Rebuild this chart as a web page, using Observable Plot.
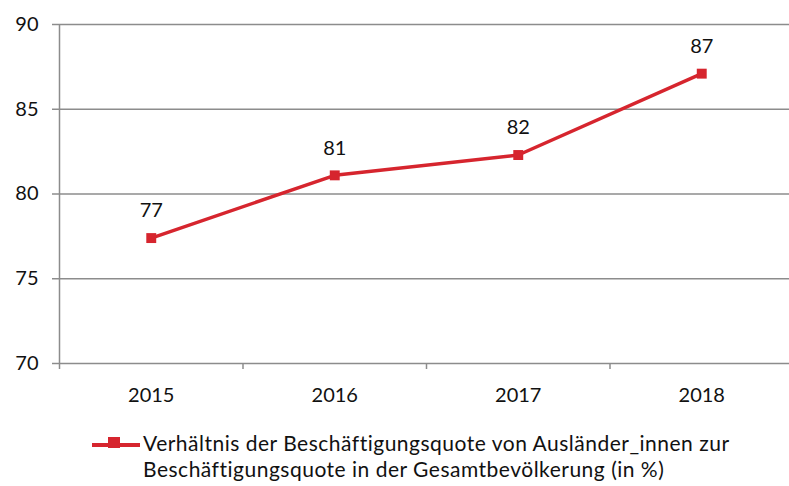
<!DOCTYPE html>
<html>
<head>
<meta charset="utf-8">
<script src="https://cdn.jsdelivr.net/npm/d3@7"></script>
<script src="https://cdn.jsdelivr.net/npm/@observablehq/plot@0.6"></script>
<style>
  body { margin: 0; background: #fff; font-family: Lato, "Open Sans", sans-serif; overflow: hidden; }
  #chart { width: 789px; overflow: hidden; }
  .legend { position: relative; height: 78px; }
  .legend svg { position: absolute; left: 90px; top: 29px; }
  .legend .txt { position: absolute; left: 143px; top: 22px; font-size: 21px; line-height: 26px; letter-spacing: 0.5px; color: #111; white-space: nowrap; }
</style>
</head>
<body>
<div id="chart"></div>
<script>
const years = [2015, 2016, 2017, 2018];
const ratio = [77.4, 81.1, 82.3, 87.1];
const yTicks = [70, 75, 80, 85, 90];
const legendLines = ["Verhältnis der Beschäftigungsquote von Ausländer_innen zur", "Beschäftigungsquote in der Gesamtbevölkerung (in %)"];
const lineColor = "#d6252e";
const gridColor = "#8c8c8c";

const data = years.map((year, i) => ({year, value: ratio[i]}));
// category boundaries, half a year either side of each point
const bandEdges = d3.range(years.length + 1).map(i => years[0] - 0.5 + i);

const plot = Plot.plot({
  width: 789,
  height: 408,
  marginLeft: 59,
  marginRight: -4,
  marginTop: 24,
  marginBottom: 45,
  style: {fontFamily: "Lato, 'Open Sans', sans-serif", fontSize: "20px", color: "#111", overflow: "hidden"},
  x: {type: "linear", domain: [bandEdges[0], bandEdges[bandEdges.length - 1]]},
  y: {domain: [70, 90]},
  marks: [
    Plot.ruleY(yTicks, {stroke: gridColor, strokeWidth: 1.5}),
    Plot.ruleX([bandEdges[0]], {stroke: gridColor, strokeWidth: 1.5}),
    Plot.axisY({ticks: yTicks, tickSize: 7, tickPadding: 14, stroke: gridColor, strokeWidth: 1.5, label: null, fill: "#111"}),
    Plot.axisX({ticks: bandEdges, tickSize: 6, tickFormat: () => "", stroke: gridColor, strokeWidth: 1.5, label: null}),
    Plot.axisX({ticks: years, tickSize: 0, tickPadding: 24, tickFormat: d => String(d), label: null, fill: "#111"}),
    Plot.line(data, {x: "year", y: "value", stroke: lineColor, strokeWidth: 3.5}),
    Plot.dot(data, {x: "year", y: "value", symbol: "square", r: 5.6, fill: lineColor, stroke: null}),
    Plot.text(data, {x: "year", y: "value", text: d => d3.format(".0f")(d.value), dy: -27, fill: "#111"})
  ]
});

const chart = document.getElementById("chart");
chart.appendChild(plot);

const legend = document.createElement("div");
legend.className = "legend";
legend.innerHTML = `<svg width="54" height="16">
  <line x1="2" x2="50" y1="8" y2="8" stroke="${lineColor}" stroke-width="4"/>
  <rect x="18" y="0" width="12" height="11" fill="${lineColor}"/>
</svg>`;
const txt = document.createElement("div");
txt.className = "txt";
txt.innerHTML = legendLines.join("<br>");
legend.appendChild(txt);
chart.appendChild(legend);
</script>
</body>
</html>
